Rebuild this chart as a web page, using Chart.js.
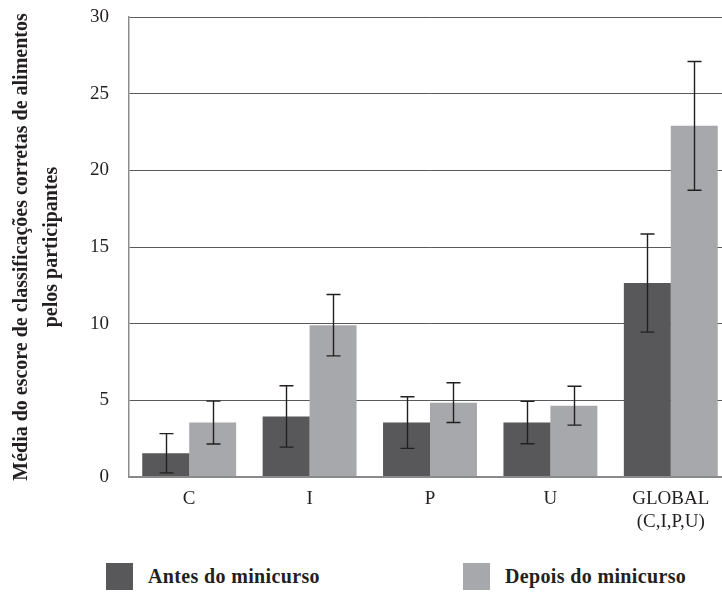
<!DOCTYPE html>
<html><head><meta charset="utf-8">
<script src="https://cdn.jsdelivr.net/npm/chart.js@4/dist/chart.umd.min.js"></script>
<style>
html,body{margin:0;padding:0;background:#fff;overflow:hidden;width:722px;height:600px;position:relative}
#wrap{position:absolute;left:0;top:0;width:740px;height:540px}
.leg{position:absolute;font-family:"Liberation Serif","DejaVu Serif",serif;font-weight:bold;font-size:20px;letter-spacing:0.35px;color:#231f20;white-space:nowrap;line-height:22px}
.box{position:absolute;width:27px;height:27px}
</style></head>
<body>
<div id="wrap"><canvas id="c" width="740" height="540"></canvas></div>
<div class="box" style="left:106px;top:563px;background:#58585a"></div>
<div class="leg" id="l1" style="left:148px;top:565px"></div>
<div class="box" style="left:463px;top:563px;background:#a7a8ab"></div>
<div class="leg" id="l2" style="left:505px;top:565px"></div>
<script>
const categories = ["C", "I", "P", "U", ["GLOBAL", "(C,I,P,U)"]];
const seriesNames = ["Antes do minicurso", "Depois do minicurso"];
const antes = [1.55, 3.95, 3.55, 3.55, 12.65];
const depois = [3.55, 9.9, 4.85, 4.65, 22.9];
const antesErr = [1.28, 2.0, 1.68, 1.38, 3.2];
const depoisErr = [1.4, 2.0, 1.3, 1.27, 4.2];
const yTicks = [0, 5, 10, 15, 20, 25, 30];
const yTitle = ["Média do escore de classificações corretas de alimentos", "pelos participantes"];
const colors = ["#58585a", "#a7a8ab"];

document.getElementById('l1').textContent = seriesNames[0];
document.getElementById('l2').textContent = seriesNames[1];

const errs = [antesErr, depoisErr];
const errorBars = {
  id: 'errorBars',
  afterDatasetsDraw(chart) {
    const ctx = chart.ctx;
    const y = chart.scales.y;
    ctx.save();
    ctx.strokeStyle = '#231f20';
    ctx.lineWidth = 1.4;
    chart.data.datasets.forEach((ds, i) => {
      const meta = chart.getDatasetMeta(i);
      meta.data.forEach((bar, j) => {
        const v = ds.data[j], e = errs[i][j];
        const x = Math.round(bar.x) + 0.5;
        const yt = y.getPixelForValue(v + e), yb = y.getPixelForValue(v - e);
        ctx.beginPath();
        ctx.moveTo(x, yt); ctx.lineTo(x, yb);
        ctx.moveTo(x - 7, yt); ctx.lineTo(x + 7, yt);
        ctx.moveTo(x - 7, yb); ctx.lineTo(x + 7, yb);
        ctx.stroke();
      });
    });
    ctx.restore();
  }
};

const serif = "'Liberation Serif', 'DejaVu Serif', serif";
new Chart(document.getElementById('c'), {
  type: 'bar',
  data: {
    labels: categories,
    datasets: [
      { label: seriesNames[0], data: antes, backgroundColor: colors[0] },
      { label: seriesNames[1], data: depois, backgroundColor: colors[1] }
    ]
  },
  options: {
    responsive: false,
    animation: false,
    layout: { padding: { top: 17, right: 9, left: 0, bottom: 0 } },
    datasets: { bar: { categoryPercentage: 0.78, barPercentage: 1 } },
    plugins: { legend: { display: false }, tooltip: { enabled: false } },
    scales: {
      x: {
        grid: { display: false, drawTicks: false },
        border: { display: true, color: '#8a8a8a', width: 2 },
        ticks: { font: { family: serif, size: 19 }, color: '#231f20', padding: 11, maxRotation: 0, autoSkip: false },
        afterFit(s) { s.height = 63; s.paddingLeft = 0; s.paddingRight = 0; }
      },
      y: {
        min: 0, max: 30,
        afterBuildTicks(s) { s.ticks = yTicks.map(v => ({ value: v })); },
        grid: {
          drawTicks: false,
          color: (c) => c.tick && c.tick.value === 0 ? '#8a8a8a' : '#5a5a5a',
          lineWidth: (c) => c.tick && c.tick.value === 0 ? 2 : 1
        },
        border: { display: true, color: '#8c8c8c', width: 1.5 },
        ticks: { font: { family: serif, size: 19 }, color: '#231f20', padding: 20 },
        title: {
          display: true,
          text: yTitle,
          font: { family: serif, size: 20, weight: 'bold', lineHeight: 1.5 },
          color: '#231f20',
          padding: { top: 7, bottom: 0 }
        },
        afterFit(s) { s.width = 129; s.paddingTop = 0; s.paddingBottom = 0; }
      }
    }
  },
  plugins: [errorBars]
});
</script>
</body></html>
